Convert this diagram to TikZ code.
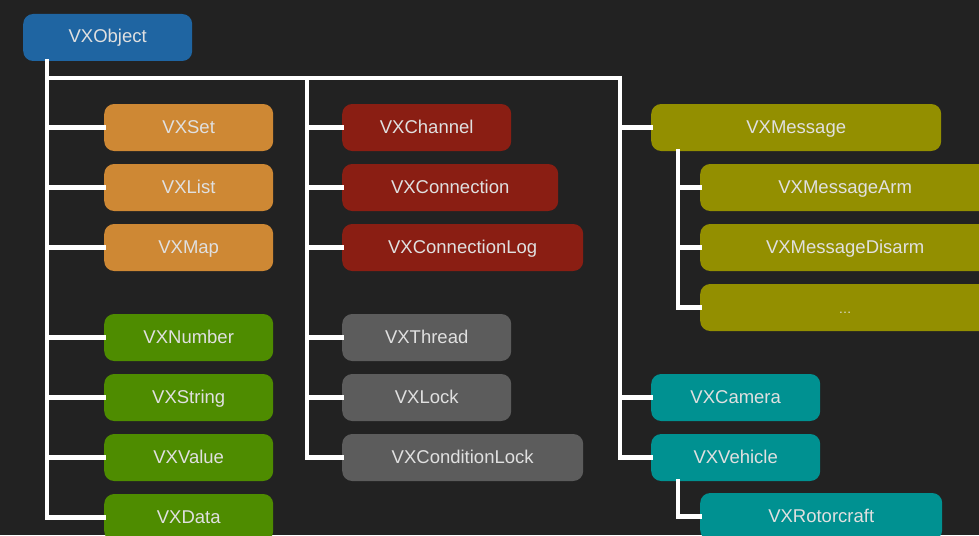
\documentclass[tikz,border=0pt]{standalone}
\usepackage{fontspec}
\setmainfont{Liberation Sans}
\begin{document}
\begin{tikzpicture}[x=1pt,y=-1pt,
  box/.style={rounded corners=10pt, minimum height=47pt, inner sep=0pt,
    text height=14pt, text depth=3pt,
    text=white!88!black, font=\fontsize{18.5}{22}\selectfont, anchor=west},
  wire/.style={draw=white, line width=4.5pt, line join=miter, line cap=rect}]
\definecolor{bg}{HTML}{222222}
\definecolor{cblue}{HTML}{1F65A2}
\definecolor{corange}{HTML}{CE8834}
\definecolor{cred}{HTML}{8A1E13}
\definecolor{colive}{HTML}{938F00}
\definecolor{cgreen}{HTML}{4E8C00}
\definecolor{cgray}{HTML}{5C5C5C}
\definecolor{cteal}{HTML}{009191}
\fill[bg] (0,0) rectangle (979,535);
\clip (0,0) rectangle (979,535);
% nodes
\node[box, fill=cblue, minimum width=169pt] (obj) at (23,37.5) {VXObject};
\node[box, fill=corange, minimum width=169pt] (set) at (104,127.5) {VXSet};
\node[box, fill=corange, minimum width=169pt] (list) at (104,187.5) {VXList};
\node[box, fill=corange, minimum width=169pt] (map) at (104,247.5) {VXMap};
\node[box, fill=cgreen, minimum width=169pt] (num) at (104,337.5) {VXNumber};
\node[box, fill=cgreen, minimum width=169pt] (str) at (104,397.5) {VXString};
\node[box, fill=cgreen, minimum width=169pt] (val) at (104,457.5) {VXValue};
\node[box, fill=cgreen, minimum width=169pt] (data) at (104,517.5) {VXData};
\node[box, fill=cred, minimum width=169pt] (chan) at (342,127.5) {VXChannel};
\node[box, fill=cred, minimum width=216pt] (conn) at (342,187.5) {VXConnection};
\node[box, fill=cred, minimum width=241pt] (clog) at (342,247.5) {VXConnectionLog};
\node[box, fill=cgray, minimum width=169pt] (thr) at (342,337.5) {VXThread};
\node[box, fill=cgray, minimum width=169pt] (lock) at (342,397.5) {VXLock};
\node[box, fill=cgray, minimum width=241pt] (clock) at (342,457.5) {VXConditionLock};
\node[box, fill=colive, minimum width=290pt] (msg) at (651,127.5) {VXMessage};
\node[box, fill=colive, minimum width=290pt] (arm) at (700,187.5) {VXMessageArm};
\node[box, fill=colive, minimum width=290pt] (disarm) at (700,247.5) {VXMessageDisarm};
\node[box, fill=colive, minimum width=290pt] (more) at (700,307.5) {\fontsize{13}{15}\selectfont\dots};
\node[box, fill=cteal, minimum width=169pt] (cam) at (651,397.5) {VXCamera};
\node[box, fill=cteal, minimum width=169pt] (veh) at (651,457.5) {VXVehicle};
\node[box, fill=cteal, minimum width=242pt] (rot) at (700,516.5) {VXRotorcraft};
% trunk coordinates
\coordinate (tA) at (47,78);
\coordinate (tB) at (307,78);
\coordinate (tC) at (620,78);
\coordinate (tD) at (678,0);
% connectors
\draw[wire] (obj.south -| tA) -- (tA |- data.west) -- (data.west);
\draw[wire] (tA) -- (tC);
\foreach \n in {set,list,map,num,str,val} \draw[wire] (tA |- \n.west) -- (\n.west);
\draw[wire] (tB) -- (tB |- clock.west) -- (clock.west);
\foreach \n in {chan,conn,clog,thr,lock} \draw[wire] (tB |- \n.west) -- (\n.west);
\draw[wire] (tC) -- (tC |- veh.west) -- (veh.west);
\foreach \n in {msg,cam} \draw[wire] (tC |- \n.west) -- (\n.west);
\draw[wire] (msg.south -| tD) -- (tD |- more.west) -- (more.west);
\foreach \n in {arm,disarm} \draw[wire] (tD |- \n.west) -- (\n.west);
\draw[wire] (veh.south -| tD) -- (tD |- rot.west) -- (rot.west);
\end{tikzpicture}
\end{document}
